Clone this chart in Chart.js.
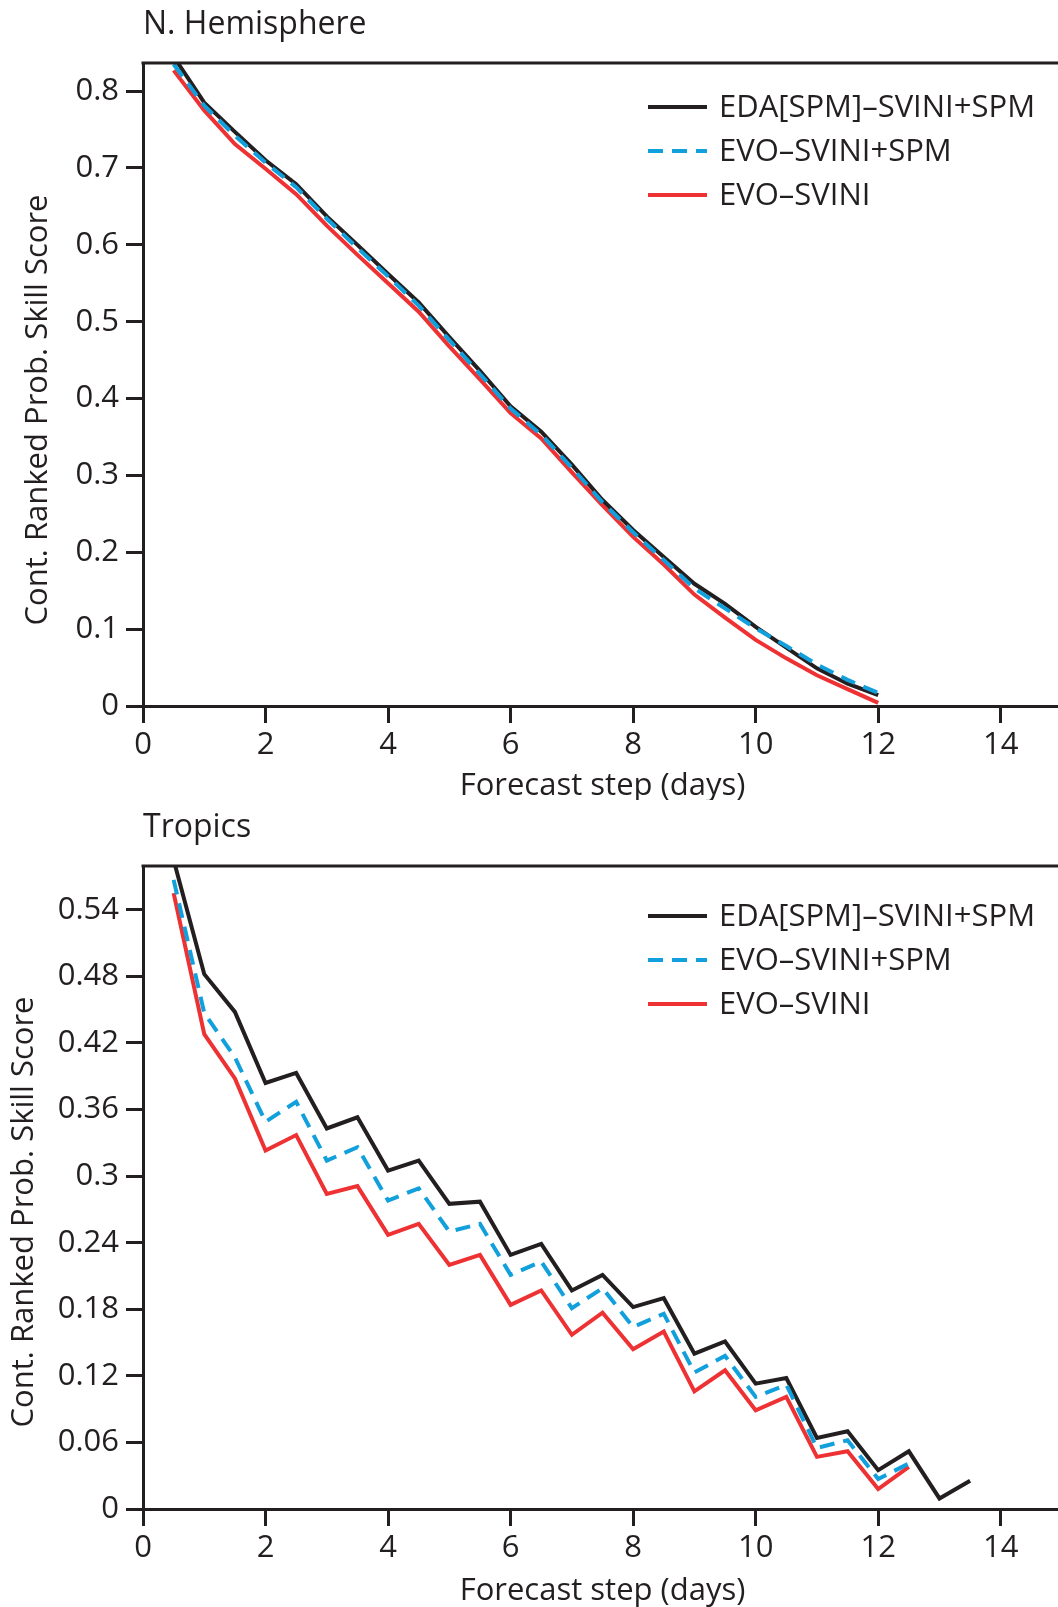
<!DOCTYPE html>
<html>
<head>
<meta charset="utf-8">
<script src="https://cdn.jsdelivr.net/npm/chart.js@4.4.1/dist/chart.umd.min.js"></script>
<style>
  html, body { margin: 0; padding: 0; background: #fff; overflow: hidden; }
  canvas { display: block; }
</style>
</head>
<body>
<canvas id="nhChart" width="1062" height="800"></canvas>
<canvas id="trChart" width="1062" height="807"></canvas>
<script>
// ---- data ----
const seriesLabels = ["EDA[SPM]\u2013SVINI+SPM", "EVO\u2013SVINI+SPM", "EVO\u2013SVINI"];
const xTicks = [0, 2, 4, 6, 8, 10, 12, 14];

// N. Hemisphere
const nhDays = [0.5, 1, 1.5, 2, 2.5, 3, 3.5, 4, 4.5, 5, 5.5, 6, 6.5, 7, 7.5, 8, 8.5, 9, 9.5, 10, 10.5, 11, 11.5, 12];
const nhEda = [0.845, 0.785, 0.747, 0.710, 0.679, 0.637, 0.600, 0.562, 0.525, 0.480, 0.436, 0.390, 0.357, 0.314, 0.268, 0.229, 0.194, 0.159, 0.133, 0.103, 0.076, 0.049, 0.029, 0.014];
const nhEvoSpm = [0.835, 0.781, 0.742, 0.707, 0.675, 0.634, 0.596, 0.559, 0.521, 0.476, 0.432, 0.387, 0.353, 0.310, 0.265, 0.226, 0.190, 0.153, 0.127, 0.101, 0.078, 0.054, 0.034, 0.017];
const nhEvo = [0.827, 0.775, 0.731, 0.699, 0.666, 0.625, 0.587, 0.550, 0.513, 0.468, 0.425, 0.381, 0.348, 0.304, 0.261, 0.220, 0.184, 0.145, 0.115, 0.086, 0.062, 0.040, 0.022, 0.004];
const nhYTicks = [0, 0.1, 0.2, 0.3, 0.4, 0.5, 0.6, 0.7, 0.8];

// Tropics
const trDays = [0.5, 1, 1.5, 2, 2.5, 3, 3.5, 4, 4.5, 5, 5.5, 6, 6.5, 7, 7.5, 8, 8.5, 9, 9.5, 10, 10.5, 11, 11.5, 12, 12.5, 13, 13.5];
const trEda = [0.585, 0.482, 0.448, 0.384, 0.393, 0.343, 0.353, 0.305, 0.314, 0.275, 0.277, 0.229, 0.239, 0.197, 0.211, 0.182, 0.190, 0.140, 0.151, 0.113, 0.118, 0.064, 0.070, 0.035, 0.052, 0.0095, 0.0255];
const trEvoSpm = [0.567, 0.447, 0.407, 0.349, 0.367, 0.314, 0.326, 0.278, 0.289, 0.250, 0.257, 0.211, 0.223, 0.181, 0.199, 0.164, 0.176, 0.123, 0.138, 0.101, 0.112, 0.055, 0.062, 0.027, 0.041];
const trEvo = [0.555, 0.428, 0.388, 0.323, 0.337, 0.284, 0.291, 0.247, 0.257, 0.220, 0.229, 0.184, 0.197, 0.157, 0.177, 0.144, 0.160, 0.106, 0.125, 0.089, 0.101, 0.047, 0.052, 0.018, 0.038];
const trYTicks = [0, 0.06, 0.12, 0.18, 0.24, 0.3, 0.36, 0.42, 0.48, 0.54];

const ink = '#231f20';
const lineColors = ['#231f20', '#12a0dd', '#ee3133'];
const lineDashes = [[], [15, 9], []];
const drawOrder = [1, 0, 2]; // blue on top

Chart.defaults.font.family = '"Open Sans", sans-serif';
Chart.defaults.color = ink;

// frame top line, panel title, y title and legend
const panelDecor = {
    id: 'panelDecor',
    afterDraw(chart, args, opts) {
        const { ctx, chartArea } = chart;
        ctx.save();
        ctx.strokeStyle = ink;
        ctx.lineWidth = 3;
        ctx.beginPath();
        ctx.moveTo(chartArea.left - 1.5, chartArea.top);
        ctx.lineTo(chartArea.right, chartArea.top);
        ctx.stroke();

        ctx.fillStyle = ink;
        ctx.textBaseline = 'middle';
        ctx.textAlign = 'left';
        ctx.font = '32px "Open Sans"';
        ctx.fillText(opts.title, chartArea.left, opts.titleY);

        ctx.save();
        ctx.font = '31px "Open Sans"';
        ctx.translate(opts.yTitleX, opts.yTitleY);
        ctx.rotate(-Math.PI / 2);
        ctx.textAlign = 'center';
        ctx.fillText(opts.yTitle, 0, 0);
        ctx.restore();

        ctx.font = '31px "Open Sans"';
        chart.data.datasets.forEach((ds, i) => {
            const y = opts.legendY + i * 44;
            ctx.strokeStyle = ds.borderColor;
            ctx.lineWidth = 4;
            ctx.setLineDash(ds.borderDash || []);
            ctx.beginPath();
            ctx.moveTo(opts.legendX, y);
            ctx.lineTo(opts.legendX + 59, y);
            ctx.stroke();
            ctx.setLineDash([]);
            ctx.fillText(ds.label, opts.legendX + 71, y + 1);
        });
        ctx.restore();
    }
};

function makePanel(id, cfg) {
    const datasets = cfg.values.map((vals, i) => ({
        label: seriesLabels[i],
        data: vals.map((v, j) => ({ x: cfg.days[j], y: v })),
        borderColor: lineColors[i],
        borderDash: lineDashes[i],
        borderWidth: 4,
        pointRadius: 0,
        fill: false,
        tension: 0,
        clip: 0,
        order: drawOrder[i]
    }));

    return new Chart(document.getElementById(id), {
        type: 'line',
        data: { datasets },
        plugins: [panelDecor],
        options: {
            responsive: false,
            animation: false,
            events: [],
            layout: { padding: { top: cfg.plotTop, left: 0, right: 0, bottom: 0 } },
            plugins: {
                legend: { display: false },
                tooltip: { enabled: false },
                panelDecor: cfg.decor
            },
            scales: {
                x: {
                    type: 'linear',
                    min: 0,
                    max: 15,
                    afterBuildTicks: s => { s.ticks = xTicks.map(v => ({ value: v })); },
                    afterFit: s => { s.height = cfg.xAxisHeight; },
                    ticks: { callback: v => String(v), font: { size: 31 }, padding: 4, maxRotation: 0 },
                    grid: { drawOnChartArea: false, tickLength: 17, tickWidth: 3, tickColor: ink },
                    border: { color: ink, width: 3 },
                    title: {
                        display: true,
                        text: 'Forecast step (days)',
                        font: { size: 31, lineHeight: 0.9 },
                        padding: { top: 0, bottom: cfg.xTitlePad }
                    }
                },
                y: {
                    type: 'linear',
                    min: 0,
                    max: cfg.yMax,
                    afterBuildTicks: s => { s.ticks = cfg.yTicks.map(v => ({ value: v })); },
                    afterFit: s => { s.width = 143; },
                    ticks: { callback: v => String(v), font: { size: 31 }, padding: 7 },
                    grid: { drawOnChartArea: false, tickLength: 17, tickWidth: 3, tickColor: ink },
                    border: { color: ink, width: 3 }
                }
            }
        }
    });
}

makePanel('nhChart', {
    days: nhDays,
    values: [nhEda, nhEvoSpm, nhEvo],
    yTicks: nhYTicks,
    yMax: 0.8366,
    plotTop: 63,
    xAxisHeight: 94,
    xTitlePad: 0,
    decor: {
        title: 'N. Hemisphere', titleY: 25,
        yTitle: 'Cont. Ranked Prob. Skill Score', yTitleX: 38, yTitleY: 410,
        legendX: 648, legendY: 107
    }
});

makePanel('trChart', {
    days: trDays,
    values: [trEda, trEvoSpm, trEvo],
    yTicks: trYTicks,
    yMax: 0.5795,
    plotTop: 66,
    xAxisHeight: 98,
    xTitlePad: 2,
    decor: {
        title: 'Tropics', titleY: 28,
        yTitle: 'Cont. Ranked Prob. Skill Score', yTitleX: 24, yTitleY: 412,
        legendX: 648, legendY: 116
    }
});
</script>
</body>
</html>
